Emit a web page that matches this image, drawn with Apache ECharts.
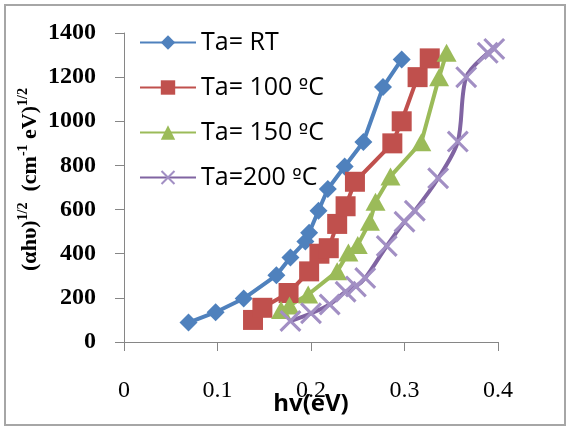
<!DOCTYPE html>
<html>
<head>
<meta charset="utf-8">
<script src="https://cdn.jsdelivr.net/npm/echarts@6/dist/echarts.min.js"></script>
<style>
html,body{margin:0;padding:0;background:#fff;}
#frame{position:absolute;left:4px;top:4px;width:558px;height:418px;border:2px solid #a6a6a6;}
#chart{position:absolute;left:0;top:0;width:569px;height:427px;}
</style>
</head>
<body>
<div id="frame"></div>
<div id="chart"></div>
<script>
const seriesNames = ['Ta= RT', 'Ta= 100 ºC', 'Ta= 150 ºC', 'Ta=200 ºC'];
const xTicks = [0, 0.1, 0.2, 0.3, 0.4];
const yTicks = [0, 200, 400, 600, 800, 1000, 1200, 1400];
const rt = [[0.069,88],[0.098,135],[0.128,197],[0.163,302],[0.178,383],[0.194,455],[0.198,495],[0.208,595],[0.218,693],[0.236,795],[0.256,906],[0.277,1155],[0.297,1280]];
const t100 = [[0.138,100],[0.148,155],[0.176,222],[0.198,320],[0.209,400],[0.219,425],[0.228,535],[0.237,615],[0.247,726],[0.287,900],[0.297,1000],[0.314,1200],[0.327,1285]];
const t150 = [[0.168,145],[0.177,165],[0.197,215],[0.228,320],[0.240,405],[0.250,440],[0.263,545],[0.269,635],[0.285,750],[0.318,905],[0.337,1200],[0.345,1310]];
const t200 = [[0.178,95],[0.200,130],[0.220,170],[0.237,228],[0.248,252],[0.258,290],[0.281,435],[0.300,545],[0.311,595],[0.336,742],[0.357,908],[0.366,1200],[0.389,1310],[0.396,1328]];

const crossPath = 'path://M0,1L1,0L10,9L9,10Z M9,0L10,1L1,10L0,9Z';
const colors = ['#4F81BD', '#C0504D', '#9BBB59', '#8064A2'];
const axisGray = '#868686';

const chart = echarts.init(document.getElementById('chart'), null, {renderer: 'canvas'});
chart.setOption({
  animation: false,
  backgroundColor: 'transparent',
  grid: {left: 124, right: 71, top: 33, bottom: 85, containLabel: false, outerBoundsMode: 'none'},
  legend: {
    orient: 'vertical', left: 134, top: 25,
    itemWidth: 56, itemHeight: 18, itemGap: 20,
    textStyle: {
      fontFamily: 'Open Sans', fontSize: 25, color: '#000', lineHeight: 24,
      rich: {
        a: {fontFamily: 'Open Sans', fontSize: 25, color: '#000', lineHeight: 24},
        o: {fontFamily: 'DejaVu Sans', fontSize: 20, color: '#000', lineHeight: 24}
      }
    },
    formatter: name => {
      const i = name.indexOf('º');
      if (i < 0) return '{a|' + name + '}';
      return '{a|' + name.slice(0, i) + '}{o|º}{a|' + name.slice(i + 1) + '}';
    },
    data: seriesNames
  },
  xAxis: {
    type: 'value', min: xTicks[0], max: xTicks[xTicks.length-1], interval: 0.1,
    name: 'hv(eV)', nameLocation: 'middle', nameGap: 50, nameMoveOverlap: false,
    nameTextStyle: {fontFamily: 'Open Sans', fontWeight: 'bold', fontSize: 24, color: '#000'},
    axisLine: {show: true, lineStyle: {color: axisGray, width: 1}},
    axisTick: {show: true, inside: false, length: 9, lineStyle: {color: axisGray}},
    axisLabel: {margin: 37, fontFamily: 'Liberation Serif', fontSize: 24, color: '#000', formatter: v => String(v)},
    splitLine: {show: false}
  },
  yAxis: {
    type: 'value', min: yTicks[0], max: yTicks[yTicks.length-1], interval: 200,
    name: '{b|(αhυ)}{s|1/2}{b|  (cm}{s|-1}{b| eV)}{s|1/2}',
    nameLocation: 'middle', nameGap: 80, nameRotate: 90, nameMoveOverlap: false,
    nameTextStyle: {
      padding: [0, 0, 0, 16],
      rich: {
        b: {fontFamily: 'Liberation Serif', fontWeight: 'bold', fontSize: 22, color: '#000', lineHeight: 28, verticalAlign: 'middle'},
        s: {fontFamily: 'Liberation Serif', fontWeight: 'bold', fontSize: 14, color: '#000', lineHeight: 14, verticalAlign: 'top'}
      }
    },
    axisLine: {show: true, lineStyle: {color: axisGray, width: 1}},
    axisTick: {show: true, inside: false, length: 9, lineStyle: {color: axisGray}},
    axisLabel: {margin: 28, fontFamily: 'Liberation Serif', fontWeight: 'bold', fontSize: 24, color: '#000', formatter: v => String(v)},
    splitLine: {show: false}
  },
  series: [
    {name: seriesNames[0], type: 'line', data: rt, symbol: 'diamond', symbolSize: 18,
     lineStyle: {color: colors[0], width: 4}, itemStyle: {color: colors[0]}},
    {name: seriesNames[1], type: 'line', data: t100, symbol: 'rect', symbolSize: 20,
     lineStyle: {color: colors[1], width: 4}, itemStyle: {color: colors[1]}},
    {name: seriesNames[2], type: 'line', data: t150, symbol: 'triangle', symbolSize: [20, 18],
     lineStyle: {color: colors[2], width: 4}, itemStyle: {color: colors[2]}},
    {name: seriesNames[3], type: 'line', data: t200, symbol: crossPath, symbolSize: 22, smooth: 0.3,
     lineStyle: {color: colors[3], width: 4}, itemStyle: {color: '#a28fc4'}}
  ]
});
</script>
</body>
</html>
